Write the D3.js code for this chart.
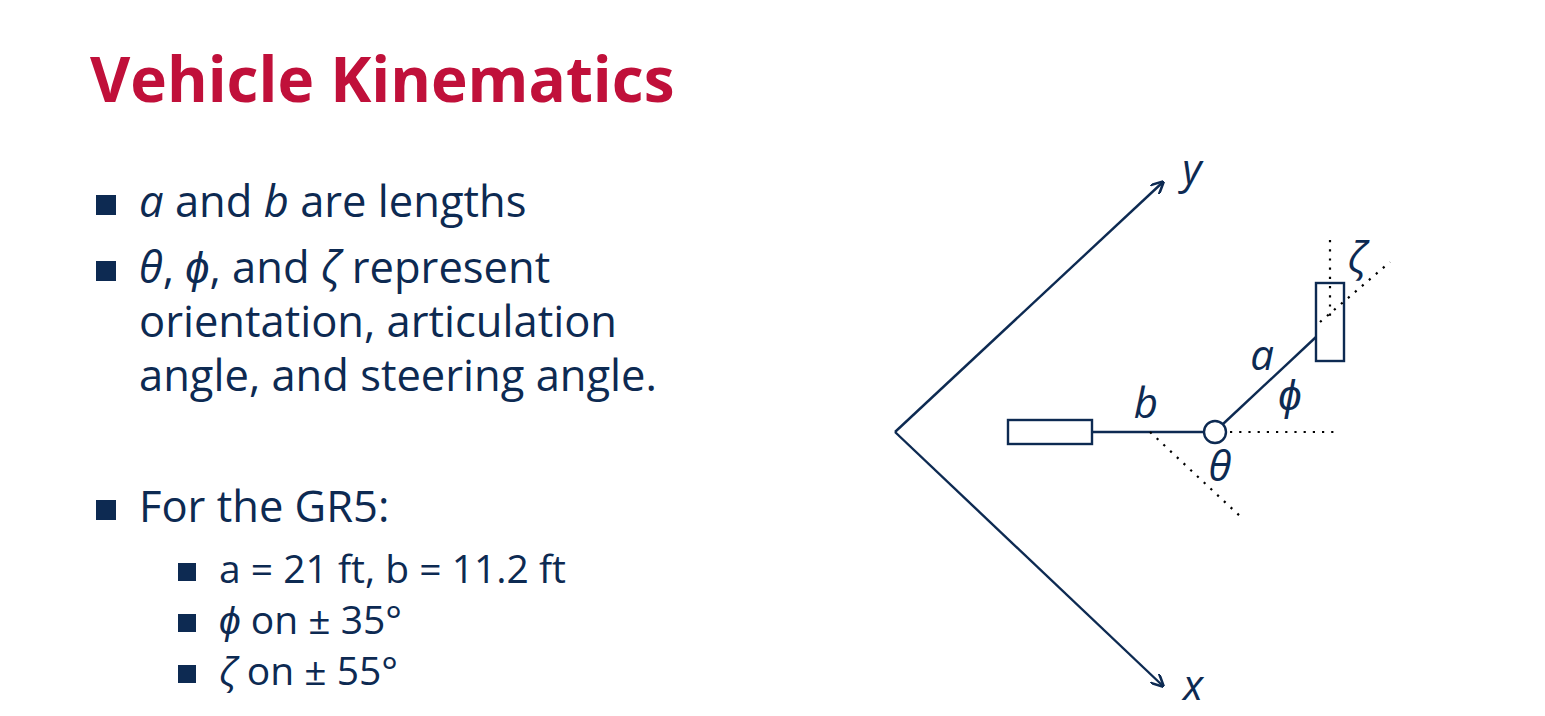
<!DOCTYPE html>
<html><head><meta charset="utf-8">
<script src="https://cdn.jsdelivr.net/npm/d3@7"></script>
<style>body{margin:0;background:#fff}text{font-family:"Open Sans",sans-serif}</style>
</head><body><svg id="s" width="1545" height="716"></svg>
<script>
var ink = "#0d2a52";
var bullets = [
  {lvl:0, y:217, parts:[["a",1],[" and ",0],["b",1],[" are lengths",0]]},
  {lvl:0, y:283, parts:[["θ",1],[", ",0],["ϕ",1],[", and ",0],["ζ",1],[" represent",0]]},
  {lvl:-1, y:337, parts:[["orientation, articulation",0]]},
  {lvl:-1, y:391, parts:[["angle, and steering angle.",0]]},
  {lvl:0, y:522, parts:[["For the GR5:",0]]},
  {lvl:1, y:583, parts:[["a = 21 ft, b = 11.2 ft",0]]},
  {lvl:1, y:634, parts:[["ϕ",1],[" on ± 35°",0]]},
  {lvl:1, y:685, parts:[["ζ",1],[" on ± 55°",0]]}
];
// diagram geometry (diagram units = pixels in local frame)
var origin = [895, 432];
var axes = [{tip:[1163,182], lab:"y", lp:[1192,184]}, {tip:[1163,686], lab:"x", lp:[1193,700]}];
var rearBox = [1008, 420, 84, 24];
var frontBox = [1316, 283, 28, 78];
var hitch = [1215, 432], hitchR = 11;
var solid = [[[1092,432],[1204,432]], [[1223,424],[1316,337]]];
var dotted = [[[1230,432],[1335,432]], [[1150,432],[1242,518]], [[1330,240],[1330,322]], [[1320,322],[1390,262]]];
var greek = [["ζ",1357,272],["a",1262,370],["ϕ",1290,410],["b",1146,418],["θ",1220,481]];

var svg = d3.select("#s");
svg.append("text").attr("x",90).attr("y",102).attr("fill","#c0103a")
  .attr("font-size",62).attr("font-weight",700).text("Vehicle Kinematics");

bullets.forEach(function(b){
  var tx = b.lvl===1 ? 219 : 139, fs = b.lvl===1 ? 39 : 43.5;
  if (b.lvl===0) svg.append("rect").attr("x",96).attr("y",b.y-22).attr("width",20).attr("height",20).attr("fill",ink);
  if (b.lvl===1) svg.append("rect").attr("x",178).attr("y",b.y-20).attr("width",18).attr("height",18).attr("fill",ink);
  var t = svg.append("text").attr("x",tx).attr("y",b.y).attr("font-size",fs).attr("fill",ink);
  b.parts.forEach(function(p){ t.append("tspan").attr("font-style",p[1]?"italic":null).text(p[0]); });
});

svg.append("defs").append("marker").attr("id","arr").attr("viewBox","0 0 10 10")
  .attr("refX",9).attr("refY",5).attr("markerWidth",13).attr("markerHeight",13)
  .attr("markerUnits","userSpaceOnUse").attr("orient","auto")
  .append("path").attr("d","M0,0L10,5L0,10").attr("fill","none").attr("stroke",ink).attr("stroke-width",2);

var line = d3.line();
var g = svg.append("g").attr("stroke",ink).attr("fill","none").attr("stroke-width",2.4);
axes.forEach(function(a){
  g.append("path").attr("d",line([origin,a.tip])).attr("marker-end","url(#arr)");
  svg.append("text").attr("x",a.lp[0]).attr("y",a.lp[1]).attr("font-size",42).attr("font-style","italic").attr("fill",ink).attr("text-anchor","middle").text(a.lab);
});
[rearBox, frontBox].forEach(function(r){ g.append("rect").attr("x",r[0]).attr("y",r[1]).attr("width",r[2]).attr("height",r[3]); });
g.append("circle").attr("cx",hitch[0]).attr("cy",hitch[1]).attr("r",hitchR);
solid.forEach(function(s){ g.append("path").attr("d",line(s)); });
dotted.forEach(function(s){ g.append("path").attr("d",line(s)).attr("stroke","#000").attr("stroke-width",2.2).attr("stroke-dasharray","2.2,7"); });
greek.forEach(function(k){
  svg.append("text").attr("x",k[1]).attr("y",k[2]).attr("font-size",42).attr("font-style","italic").attr("fill",ink).attr("text-anchor","middle").text(k[0]);
});
</script></body></html>
